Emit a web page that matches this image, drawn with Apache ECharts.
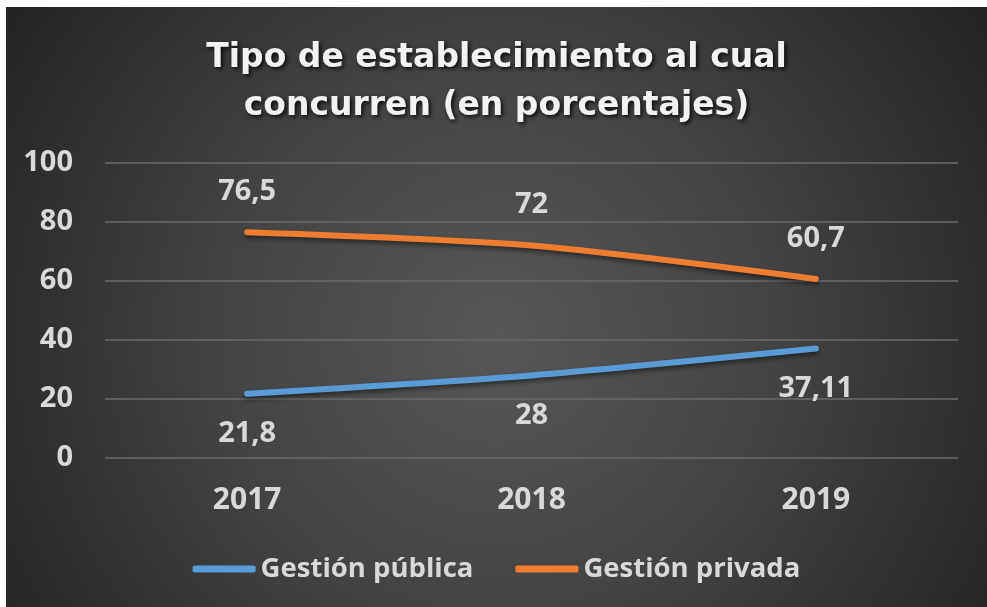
<!DOCTYPE html>
<html>
<head>
<meta charset="utf-8">
<script src="https://cdn.jsdelivr.net/npm/echarts@6/dist/echarts.min.js"></script>
<style>
  html, body { margin: 0; padding: 0; background: #ffffff; width: 987px; height: 607px; overflow: hidden; }
  #chart { position: absolute; left: 6px; top: 7px; width: 981px; height: 600px; }
</style>
</head>
<body>
<div id="chart"></div>
<script>
// Years on the horizontal axis
const years = ['2017', '2018', '2019'];
// Share of students by type of school (percent)
const gestionPublica = [21.8, 28, 37.11];
const gestionPrivada = [76.5, 72, 60.7];
const seriesNames = ['Gestión pública', 'Gestión privada'];
const titleLines = ['Tipo de establecimiento al cual', 'concurren (en porcentajes)'];

const labelColor = '#d9d9d9';
const fontFamily = '"Open Sans", Lato, sans-serif';

// Decimal comma, as written in Spanish
const fmt = v => String(v).replace('.', ',');

const chart = echarts.init(document.getElementById('chart'), null, { renderer: 'canvas' });

function lineSeries(name, data, color, labelPos) {
  return {
    name: name,
    type: 'line',
    data: data,
    smooth: 0.25,
    symbol: 'circle',
    symbolSize: 0,
    showSymbol: true,
    color: color,
    lineStyle: {
      width: 6, cap: 'round', join: 'round',
      shadowColor: 'rgba(0,0,0,0.45)', shadowBlur: 4, shadowOffsetY: 3
    },
    label: {
      show: true, position: labelPos, distance: 26,
      formatter: p => fmt(p.value),
      color: labelColor, fontFamily: fontFamily, fontWeight: 'bold', fontSize: 29
    },
    emphasis: { disabled: true }
  };
}

chart.setOption({
  animation: false,
  backgroundColor: {
    type: 'radial', x: 0.5, y: 0.55, r: 1,
    colorStops: [
      { offset: 0, color: '#575757' },
      { offset: 0.45, color: '#444444' },
      { offset: 1, color: '#222222' }
    ]
  },
  title: {
    text: titleLines.join('\n'),
    left: 'center',
    top: 22,
    textStyle: {
      color: '#f2f2f2',
      fontFamily: '"DejaVu Sans", "Open Sans", sans-serif',
      fontWeight: 'bold',
      fontSize: 33,
      lineHeight: 48,
      textShadowColor: 'rgba(0,0,0,0.85)',
      textShadowBlur: 4,
      textShadowOffsetX: 2,
      textShadowOffsetY: 2
    }
  },
  grid: { left: 99, right: 29, top: 156, bottom: 149 },
  legend: {
    data: seriesNames,
    left: 'center',
    bottom: 19,
    icon: 'roundRect',
    itemWidth: 63,
    itemHeight: 7,
    itemGap: 42,
    textStyle: { color: labelColor, fontFamily: fontFamily, fontWeight: 'bold', fontSize: 27.5 }
  },
  xAxis: {
    type: 'category',
    data: years,
    boundaryGap: true,
    axisLine: { show: false },
    axisTick: { show: false },
    axisLabel: { color: labelColor, fontFamily: fontFamily, fontWeight: 'bold', fontSize: 30, margin: 27 }
  },
  yAxis: {
    type: 'value',
    min: 0,
    max: 100,
    interval: 20,
    axisLine: { show: false },
    axisTick: { show: false },
    axisLabel: { color: labelColor, fontFamily: fontFamily, fontWeight: 'bold', fontSize: 29, margin: 32 },
    splitLine: { lineStyle: { color: '#6a6a6a', width: 1.5 } }
  },
  series: [
    lineSeries(seriesNames[0], gestionPublica, '#5b9bd5', 'bottom'),
    lineSeries(seriesNames[1], gestionPrivada, '#ed7d31', 'top')
  ]
});
</script>
</body>
</html>
